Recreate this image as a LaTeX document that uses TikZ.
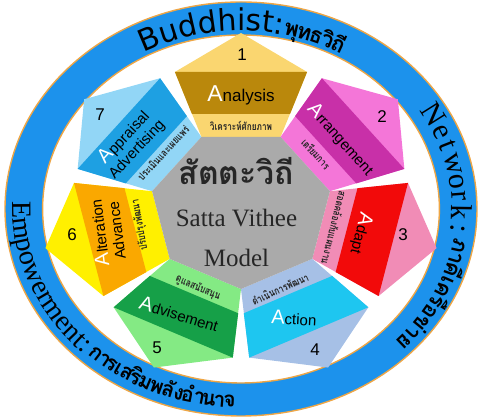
\documentclass[tikz,border=0pt]{standalone}
\usepackage{fontspec}
\setmainfont{Liberation Serif}
\newfontfamily\thaifont[Script=Thai]{Loma}
\newfontfamily\wordfont{Liberation Sans}
\newfontfamily\ringsans{DejaVu Sans}
\usetikzlibrary{positioning}

\definecolor{ringblue}{RGB}{28,146,236}
\definecolor{ringedge}{RGB}{238,166,70}
\definecolor{hepgray}{RGB}{170,170,170}
\definecolor{lite1}{RGB}{250,214,112}
\definecolor{dark1}{RGB}{186,136,12}
\definecolor{lite2}{RGB}{244,118,216}
\definecolor{dark2}{RGB}{200,48,168}
\definecolor{lite3}{RGB}{241,140,182}
\definecolor{dark3}{RGB}{242,10,10}
\definecolor{lite4}{RGB}{166,192,230}
\definecolor{dark4}{RGB}{30,198,240}
\definecolor{lite5}{RGB}{132,234,132}
\definecolor{dark5}{RGB}{22,160,72}
\definecolor{lite6}{RGB}{255,240,0}
\definecolor{dark6}{RGB}{250,168,0}
\definecolor{lite7}{RGB}{146,214,246}
\definecolor{dark7}{RGB}{30,160,226}

\newcommand\whiteA[1]{{\color{white}\fontsize{#1}{#1}\selectfont A}}
\newcommand\narrow[1]{\scalebox{0.78}[1]{#1}}

% lettering round the ring: #1 colour, #2 prefix for the node names
\newcommand\ringletters[2]{%
    % Buddhist along the top, read clockwise
    \foreach \c/\a [count=\n] in {B/115.6,u/110.0,d/104.6,d/99.2,h/93.8,i/89.9,s/86.5,t/82.6,:/79.5}
        \node[ringchar,text=#1,font=\ringsans\fontsize{30}{30}\selectfont,
              rotate={atan2(-cos(\a),1.14*sin(\a))}] (#2-top-\n) at (\a:178) {\c};
    \foreach \c/\a [count=\n] in {พุ/76.0,ท/72.4,ธ/68.9,วิ/65.5,ถี/62.2}
        \node[ringchar,text=#1,font=\thaifont\bfseries\fontsize{22}{22}\selectfont,
              rotate={atan2(-cos(\a),1.14*sin(\a))}] (#2-topth-\n) at (\a:178) {\c};
    % Network down the right side
    \foreach \c/\a [count=\n] in {N/29,e/23.5,t/19,w/13.6,o/8.2,r/3.8,k/-0.8,:/-5.8}
        \node[ringchar,text=#1,font=\fontsize{30}{30}\selectfont,
              rotate={atan2(-cos(\a),1.14*sin(\a))}] (#2-right-\n) at (\a:185) {\c};
    \foreach \c/\a [count=\n] in {ภ/-11,า/-14.6,คี/-18.1,เ/-21.3,ค/-24.5,รื/-28.0,อ/-31.6,ข่/-35.5,า/-39.1,ย/-42.6}
        \node[ringchar,text=#1,font=\thaifont\bfseries\fontsize{22}{22}\selectfont,
              rotate={atan2(-cos(\a),1.14*sin(\a))}] (#2-rightth-\n) at (\a:189) {\c};
    % Empowerment down the left side and on along the bottom, read anticlockwise
    \foreach \c/\a [count=\n] in {E/180.4,m/185.9,p/190.9,o/194.8,w/199.6,e/204.2,r/207.3,m/211.6,e/216.4,n/220.1,t/223.2,:/225.4}
        \node[ringchar,text=#1,font=\fontsize{28}{28}\selectfont,
              rotate={atan2(cos(\a),-1.14*sin(\a))}] (#2-left-\n) at (\a:200) {\c};
    \foreach \c/\a [count=\n] in {ก/229,า/231.8,ร/234.2,เ/236.3,ส/238.8,ริ/241.5,ม/244.3,พ/247.5,ลั/250.7,ง/253.6,อำ/257.5,น/261.6,า/264.4,จ/267}
        \node[ringchar,text=#1,font=\thaifont\bfseries\fontsize{21}{21}\selectfont,
              rotate={atan2(cos(\a),-1.14*sin(\a))}] (#2-bottom-\n) at (\a:198.5) {\c};
}

\begin{document}
\begin{tikzpicture}[x=1.14pt,y=1pt]
    \tikzstyle{ringchar}=[inner sep=0pt,anchor=base]
    \tikzstyle{word}=[font=\wordfont\fontsize{15}{17}\selectfont,text=black,align=center,inner sep=0pt]
    \tikzstyle{strip}=[font=\thaifont\bfseries\fontsize{10.5}{10.5}\selectfont,text=black!85,inner sep=0pt]
    \tikzstyle{num}=[font=\wordfont\fontsize{17}{17}\selectfont,inner sep=0pt]
    \tikzstyle{model}=[font=\fontsize{25}{25}\selectfont,text=black!85,anchor=base,inner sep=0pt]

    \useasboundingbox (-241pt,-210pt) rectangle (239pt,209pt);

    % Draw the blue ring with its orange rims
    \fill[ringblue,even odd rule] (0,0) ellipse [x radius=236pt,y radius=207pt]
        (0,0) ellipse [x radius=198.4pt,y radius=174pt];
    \draw[ringedge,line width=1.4pt] (0,0) ellipse [x radius=236pt,y radius=207pt];
    \draw[ringedge,line width=1.4pt] (0,0) ellipse [x radius=198.4pt,y radius=174pt];

    % Draw the seven petals, light body first and the dark band on top
    \foreach \i in {1,...,7} {
        \pgfmathsetmacro\th{90-(\i-1)*360/7}
        \fill[fill=lite\i] (\th+25.71:80) -- (\th+22.94:148.8) -- (\th:176)
            -- (\th-22.94:148.8) -- (\th-25.71:80) -- cycle;
        \fill[fill=dark\i] (\th+24.36:104.3) -- (\th+22.94:148.8)
            -- (\th-22.94:148.8) -- (\th-24.36:104.3) -- cycle;
    }

    % Gray heptagon in the middle
    \fill[hepgray] (270:80) \foreach \k in {1,...,6} { -- (270+\k*360/7:80) } -- cycle;

    % Name of each step on its band
    \node[word,font=\wordfont\fontsize{17}{17}\selectfont] (w-1) at (90:114) {\whiteA{23}nalysis};
    \node[word,rotate=-48] (w-2) at (38.6:112) {\whiteA{20}rrangement};
    \node[word,rotate=-104] (w-3) at (-12.9:108) {\whiteA{20}dapt};
    \node[word,rotate=-3] (w-4) at (-66.9:118.5) {\whiteA{20}ction};
    \node[word,rotate=-17] (w-5) at (242.6:118) {\whiteA{20}dvisement};
    \node[word,rotate=97] (w-6) at (191:119.7) {\whiteA{20}lteration\\Advance};
    \node[word,rotate=47] (w-7) at (145.9:117.6) {\whiteA{20}ppraisal\\Advertising};

    % Thai wording on the inner strips
    \node[strip] (s-1) at (90:83.5) {\narrow{วิเคราะห์ศักยภาพ}};
    \node[strip,rotate=-48] (s-2) at (40:86) {\narrow{เตรียมการ}};
    \node[strip,rotate=-104] (s-3) at (-12.9:84) {\narrow{สอดคล้องกับแผนงาน}};
    \node[strip,rotate=24] (s-4) at (-66.8:87) {\narrow{ดำเนินการพัฒนา}};
    \node[strip,rotate=-24] (s-5) at (244.5:87.5) {\narrow{ดูแลสนับสนุน}};
    \node[strip,rotate=100] (s-6) at (190.2:90) {\narrow{ปรับปรุงพัฒนา}};
    \node[strip,rotate=47] (s-7) at (140.7:88.4) {\narrow{ประเมินและเผยแพร่}};

    % Step numbers in the tips
    \foreach \i/\x/\y in {1/1/154,2/123.7/92,3/142.1/-26,4/64.9/-141,5/-73.7/-139,6/-148.2/-26,7/-123.7/94}
        \node[num] (num-\i) at (\x,\y) {\i};

    % Model name in the centre
    \node[anchor=base,inner sep=0pt,font=\thaifont\bfseries\fontsize{32}{32}\selectfont,text=black!85] (title) at (-4,24) {สัตตะวิถี};
    \node[model] (satta) at (-4,-18) {Satta Vithee};
    \node[model] (model) at (-4,-58) {Model};

    % Lettering round the ring
    \ringletters{black}{rt}
\end{tikzpicture}
\end{document}
